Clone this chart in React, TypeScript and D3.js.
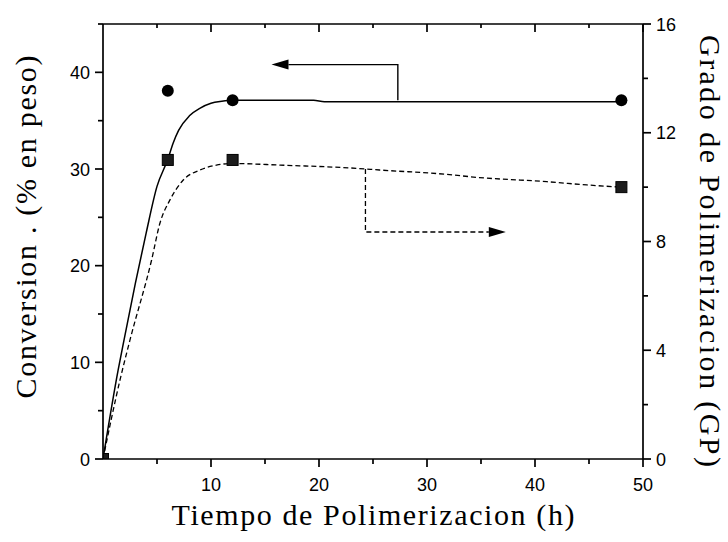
import React from "react";
import * as d3 from "d3";

// ---- data ----
const convTimes = [6, 12, 48];
const convValues = [38.1, 37.1, 37.1];

const gpTimes = [0, 6, 12, 48];
const gpValues = [0, 11.0, 11.0, 10.0];

const convFitT = [0, 1.4, 2, 3, 4, 5, 6, 6.5, 7, 8, 9, 10, 11, 12, 19.5, 20.5, 48];
const convFitV = [0, 9.2, 12.6, 18.2, 23.4, 28.2, 31.0, 32.7, 34.0, 35.5, 36.3, 36.8, 37.0, 37.1, 37.1, 36.95, 36.95];

const gpFitT = [0, 1.57, 2.5, 4.5, 5.27, 6.2, 7.43, 8.97, 10.5, 12, 16.4, 23.5, 25.6, 31.8, 34.6, 41.1, 44.8, 48];
const gpFitV = [0, 2.9, 4.38, 7.32, 8.67, 9.53, 10.26, 10.63, 10.81, 10.87, 10.81, 10.69, 10.63, 10.47, 10.36, 10.2, 10.08, 10.0];

// annotation brackets (data units)
const leftArrowT = [27.3, 27.3, 15.6];
const leftArrowV = [37.1, 40.8, 40.8];
const rightArrowT = [24.3, 24.3, 37.3];
const rightArrowV = [10.67, 8.35, 8.35];

const xMajor = [10, 20, 30, 40, 50];
const xMinor = [5, 15, 25, 35, 45];
const yLeftMajor = [0, 10, 20, 30, 40];
const yLeftMinor = [5, 15, 25, 35, 45];
const yRightMajor = [0, 4, 8, 12, 16];
const yRightMinor = [2, 6, 10, 14];

const xTitle = "Tiempo de Polimerizacion (h)";
const yLeftTitle = "Conversion . (% en peso)";
const yRightTitle = "Grado de Polimerizacion (GP)";

export default function App() {
  const W = 728, H = 542;
  const L = 103, R = 643, T = 24, B = 459;
  const x = d3.scaleLinear().domain([0, 50]).range([L, R]);
  const yL = d3.scaleLinear().domain([0, 45]).range([B, T]);
  const yR = d3.scaleLinear().domain([0, 16]).range([B, T]);

  const lineL = d3.line<number>().x((_, i) => x(convFitT[i])).y((v) => yL(v)).curve(d3.curveMonotoneX);
  const lineR = d3.line<number>().x((_, i) => x(gpFitT[i])).y((v) => yR(v)).curve(d3.curveMonotoneX);

  const la = leftArrowT.map((t, i) => [x(t), yL(leftArrowV[i])] as [number, number]);
  const ra = rightArrowT.map((t, i) => [x(t), yR(rightArrowV[i])] as [number, number]);
  const ah = 17, aw = 5;
  const laTip = la[2];
  const raTip = ra[2];
  const poly = d3.line();

  const sans = "'Liberation Sans', Arial, sans-serif";
  const serif = "'Liberation Serif', 'Times New Roman', serif";
  const axisW = 1.7;

  return (
    <svg width={W} height={H} style={{ position: "absolute", left: 0, top: 0, background: "#fff" }}>
      <defs>
        <clipPath id="plot">
          <rect x={L} y={T} width={R - L} height={B - T} />
        </clipPath>
      </defs>
      <rect x={0} y={0} width={W} height={H} fill="#fff" />

      {/* fitted curves */}
      <g clipPath="url(#plot)" fill="none">
        <path d={lineL(convFitV) || ""} stroke="#000" strokeWidth={1.5} />
        <path d={lineR(gpFitV) || ""} stroke="#000" strokeWidth={1.3} strokeDasharray="5,3" />
        {/* annotations */}
        <path d={poly([la[0], la[1], [laTip[0] + ah, laTip[1]]]) || ""} stroke="#000" strokeWidth={1.4} />
        <path d={poly([[laTip[0], laTip[1]], [laTip[0] + ah, laTip[1] - aw], [laTip[0] + ah, laTip[1] + aw]]) + "Z"} fill="#000" stroke="none" />
        <path d={poly([ra[0], ra[1], [raTip[0] - ah, raTip[1]]]) || ""} stroke="#000" strokeWidth={1.3} strokeDasharray="5,3" />
        <path d={poly([[raTip[0], raTip[1]], [raTip[0] - ah, raTip[1] - aw], [raTip[0] - ah, raTip[1] + aw]]) + "Z"} fill="#000" stroke="none" />

        {/* markers */}
        {gpTimes.map((t, i) => (
          <rect key={"s" + i} x={x(t) - 5.5} y={yR(gpValues[i]) - 5.5} width={11} height={11} fill="#1c1c1c" stroke="#000" strokeWidth={1} />
        ))}
        {convTimes.map((t, i) => (
          <circle key={"c" + i} cx={x(t)} cy={yL(convValues[i])} r={6} fill="#000" />
        ))}
      </g>

      {/* frame */}
      <g stroke="#000" strokeWidth={axisW} fill="none">
        <line x1={L} y1={B} x2={R} y2={B} />
        <line x1={L} y1={T} x2={R} y2={T} />
        <line x1={L} y1={T} x2={L} y2={B} />
        <line x1={R} y1={T} x2={R} y2={B} />
        {xMajor.map((v) => <line key={"bx" + v} x1={x(v)} x2={x(v)} y1={B} y2={B + 8} />)}
        {xMinor.map((v) => <line key={"bn" + v} x1={x(v)} x2={x(v)} y1={B} y2={B + 5} />)}
        {xMajor.map((v) => <line key={"tx" + v} x1={x(v)} x2={x(v)} y1={T} y2={T + 8} />)}
        {xMinor.map((v) => <line key={"tn" + v} x1={x(v)} x2={x(v)} y1={T} y2={T + 4} />)}
        {yLeftMajor.map((v) => <line key={"ly" + v} x1={L - 8} x2={L} y1={yL(v)} y2={yL(v)} />)}
        {yLeftMinor.map((v) => <line key={"ln" + v} x1={L - 5} x2={L} y1={yL(v)} y2={yL(v)} />)}
        {yRightMajor.map((v) => <line key={"ry" + v} x1={R} x2={R + 8} y1={yR(v)} y2={yR(v)} />)}
        {yRightMinor.map((v) => <line key={"rn" + v} x1={R} x2={R + 5} y1={yR(v)} y2={yR(v)} />)}
      </g>

      {/* tick labels */}
      <g style={{ fontFamily: sans, fontSize: "18px" }} fill="#000">
        {xMajor.map((v) => (
          <text key={"bxl" + v} x={x(v)} y={491} textAnchor="middle">{v}</text>
        ))}
        {yLeftMajor.map((v) => (
          <text key={"lyl" + v} x={90} y={yL(v) + 6.5} textAnchor="end">{v}</text>
        ))}
        {yRightMajor.map((v) => (
          <text key={"ryl" + v} x={656} y={yR(v) + 6.5} textAnchor="start">{v}</text>
        ))}
      </g>

      {/* axis titles */}
      <g style={{ fontFamily: serif, fontSize: "30px" }} fill="#000">
        <text x={(L + R) / 2} y={525} textAnchor="middle" textLength={403} lengthAdjust="spacing">{xTitle}</text>
        <text transform={`translate(36, 227) rotate(-90)`} textAnchor="middle" textLength={343} lengthAdjust="spacing">{yLeftTitle}</text>
        <text transform={`translate(700, 251) rotate(90)`} textAnchor="middle" textLength={432} lengthAdjust="spacing">{yRightTitle}</text>
      </g>
    </svg>
  );
}
